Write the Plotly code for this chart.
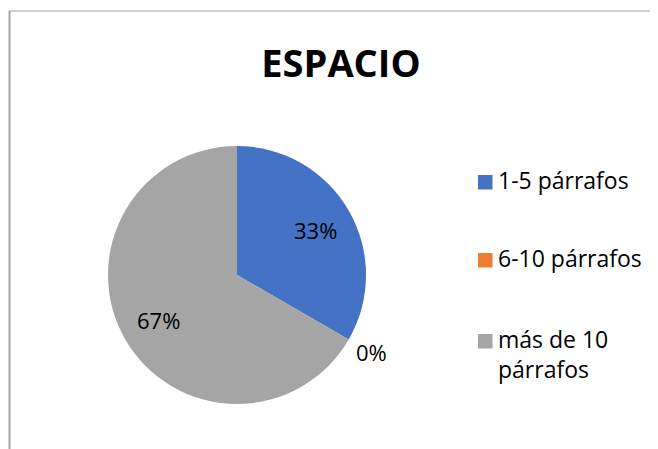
import math
import plotly.graph_objects as go

categories = ["1-5 párrafos", "6-10 párrafos", "más de 10 párrafos"]
legend_labels = ["1-5 párrafos", "6-10 párrafos", "más de 10<br>párrafos"]
values = [1, 0, 2]
colors = ["#4472C4", "#ED7D31", "#A5A5A5"]
title_text = "ESPACIO"

# window size and default page margin of the browser body
WIN_W, WIN_H = 658, 449
OFF = 8
W, H = WIN_W - OFF, WIN_H - OFF
FONT = "Open Sans, Noto Sans, sans-serif"


def px(x):
    return (x - OFF) / W


def py(y):
    return 1 - (y - OFF) / H


# pie geometry (window pixels)
CX, CY, R = 237, 275, 129

fig = go.Figure()
fig.add_trace(go.Pie(
    labels=categories,
    values=values,
    sort=False,
    direction="clockwise",
    rotation=0,
    marker=dict(colors=colors, line=dict(width=0)),
    textinfo="none",
    domain=dict(x=[px(CX - R), px(CX + R)], y=[py(CY + R), py(CY - R)]),
    showlegend=False,
    hoverinfo="label+percent",
))

annotations = []
# percentage labels derived from the values
total = sum(values)
cum = 0
for v in values:
    frac = v / total
    mid = (cum + frac / 2) * 2 * math.pi
    cum += frac
    rr = R * (0.70 if v > 0 else 1.2)
    lx = CX + rr * math.sin(mid)
    ly = CY - rr * math.cos(mid)
    annotations.append(dict(xref="paper", yref="paper", x=px(lx), y=py(ly),
                            xanchor="center", yanchor="middle", showarrow=False,
                            text=f"{round(frac * 100)}%",
                            font=dict(family=FONT, size=22, color="#000000")))

shapes = [
    dict(type="line", xref="paper", yref="paper", x0=px(9), x1=1, y0=py(11), y1=py(11),
         line=dict(color="#A0A0A0", width=1)),
    dict(type="line", xref="paper", yref="paper", x0=px(9.5), x1=px(9.5), y0=0, y1=py(11),
         line=dict(color="#A6A6A6", width=2)),
]
leg_y = [181, 259, 340]
for lab, col, yy in zip(legend_labels, colors, leg_y):
    shapes.append(dict(type="rect", xref="paper", yref="paper",
                       x0=px(478), x1=px(492.5), y0=py(yy + 8.5), y1=py(yy - 6),
                       fillcolor=col, line=dict(width=0)))
    annotations.append(dict(xref="paper", yref="paper", x=px(496), y=py(yy - 19),
                            xanchor="left", yanchor="top", align="left", showarrow=False,
                            text=lab, font=dict(family=FONT, size=23, color="#000000")))

fig.update_layout(
    width=W, height=H,
    margin=dict(l=0, r=0, t=0, b=0),
    paper_bgcolor="white",
    plot_bgcolor="white",
    title=dict(text="<b>" + title_text + "</b>", x=px(341), xanchor="center",
               y=py(64), yanchor="middle", yref="paper",
               font=dict(family=FONT, size=38, color="#000000")),
    shapes=shapes,
    annotations=annotations,
    showlegend=False,
)

fig.write_html("out.html")
